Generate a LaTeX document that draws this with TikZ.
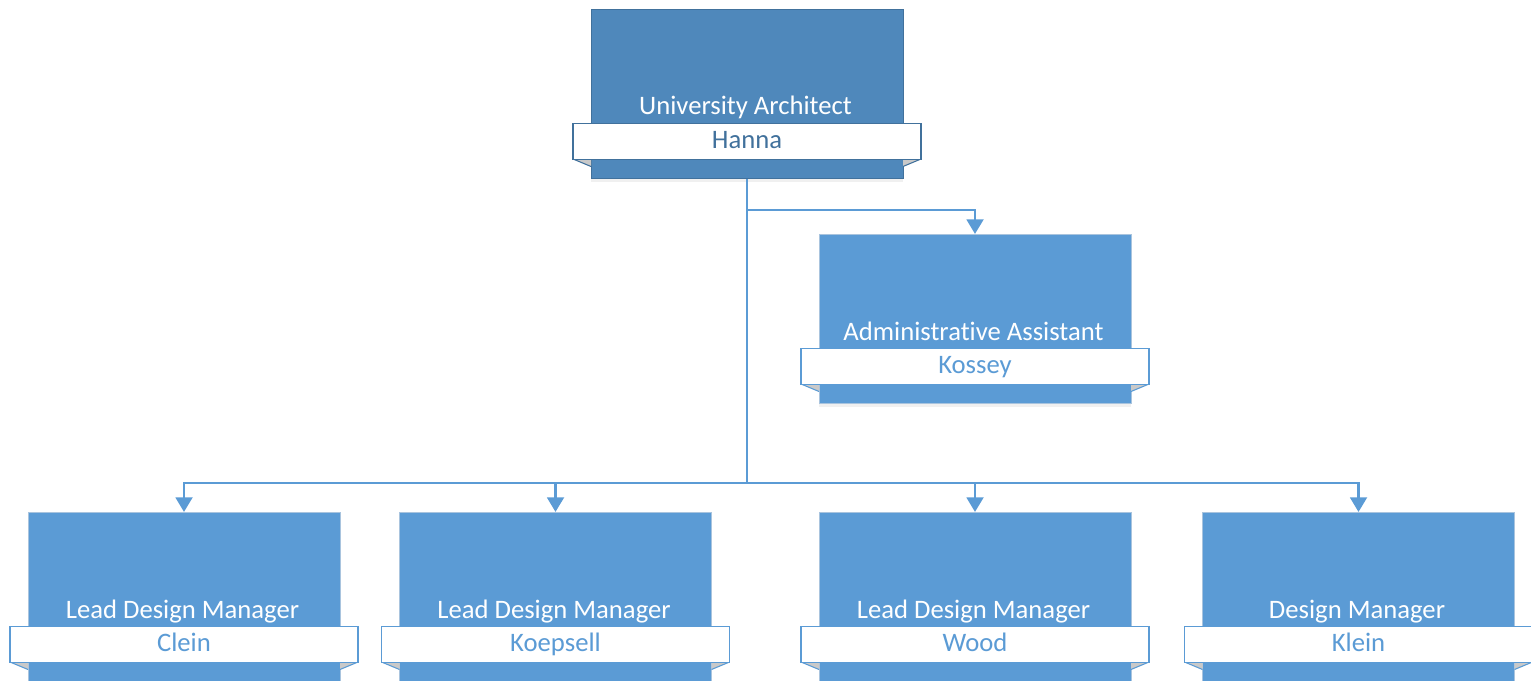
\documentclass[tikz,border=0pt]{standalone}
\usepackage{fontspec}
\setmainfont{Carlito}[Ligatures=NoCommon]
\usetikzlibrary{arrows.meta,shadows}
\definecolor{topfill}{HTML}{4F88BB}
\definecolor{topline}{HTML}{41719C}
\definecolor{boxfill}{HTML}{5B9BD5}
\definecolor{boxline}{HTML}{A9C4DE}
\definecolor{conn}{HTML}{5B9BD5}
\definecolor{foldgray}{HTML}{C9C9C9}
\tikzset{
  unitbox/.style={draw=boxline, line width=0.75pt, fill=boxfill, minimum width=234pt, minimum height=126.75pt, inner sep=0pt, anchor=north,
    drop shadow={opacity=0.12, shadow xshift=0pt, shadow yshift=-2.5pt}},
  topbox/.style={unitbox, draw=topline, fill=topfill},
  band/.style={draw=conn, line width=1.1pt, fill=white, minimum width=261pt, minimum height=27pt, inner sep=0pt, anchor=north, text=boxfill,
    text height=14pt, text depth=4pt, font=\fontsize{20}{22}\selectfont},
  topband/.style={band, draw=topline, text=topline},
  titletext/.style={anchor=base, text=white, inner sep=0pt, font=\fontsize{20}{22}\selectfont},
  fold/.style={fill=foldgray},
  foldline/.style={draw=conn, line width=0.8pt},
  topfoldline/.style={draw=topline, line width=0.8pt},
  link/.style={draw=conn, line width=2.2pt, -{Triangle[width=12.5pt,length=11pt]}}
}
\newcommand{\OrgUnit}[8]{%
  % #1 name, #2 cx, #3 top y, #4 title, #5 person, #6 box style, #7 band style, #8 fold line style
  \node[#6] (#1) at (#2,#3) {};
  \fill[fold] (#2-174,#3+150) -- (#2-156,#3+150) -- (#2-156,#3+157.5) -- cycle;
  \fill[fold] (#2+174,#3+150) -- (#2+156,#3+150) -- (#2+156,#3+157.5) -- cycle;
  \path[#8] (#2-174,#3+150) -- (#2-156,#3+157.5);
  \path[#8] (#2+174,#3+150) -- (#2+156,#3+157.5);
  \node[#7] (#1n) at (#2,#3+114) {#5};
  \node[titletext] (#1t) at (#2-1.5,#3+106) {#4};
}
\begin{document}
\begin{tikzpicture}[x=0.75pt,y=-0.75pt]
\useasboundingbox (0,0) rectangle (1531,681);
\OrgUnit{arch}{747}{9}{University Architect}{Hanna}{topbox}{topband}{topfoldline}
\OrgUnit{admin}{975}{234}{Administrative Assistant}{Kossey}{unitbox}{band}{foldline}
\OrgUnit{clein}{184}{512}{Lead Design Manager}{Clein}{unitbox}{band}{foldline}
\OrgUnit{koep}{555.5}{512}{Lead Design Manager}{Koepsell}{unitbox}{band}{foldline}
\OrgUnit{wood}{975}{512}{Lead Design Manager}{Wood}{unitbox}{band}{foldline}
\OrgUnit{klein}{1358.5}{512}{Design Manager}{Klein}{unitbox}{band}{foldline}
\coordinate (j1) at (747,210);
\coordinate (j2) at (747,483);
\path[link] (arch.south) |- (j1) -| (admin.north);
\path[link] (arch.south) -- (j2) -| (clein.north);
\path[link] (j2) -| (koep.north);
\path[link] (j2) -| (wood.north);
\path[link] (j2) -| (klein.north);
\end{tikzpicture}
\end{document}
